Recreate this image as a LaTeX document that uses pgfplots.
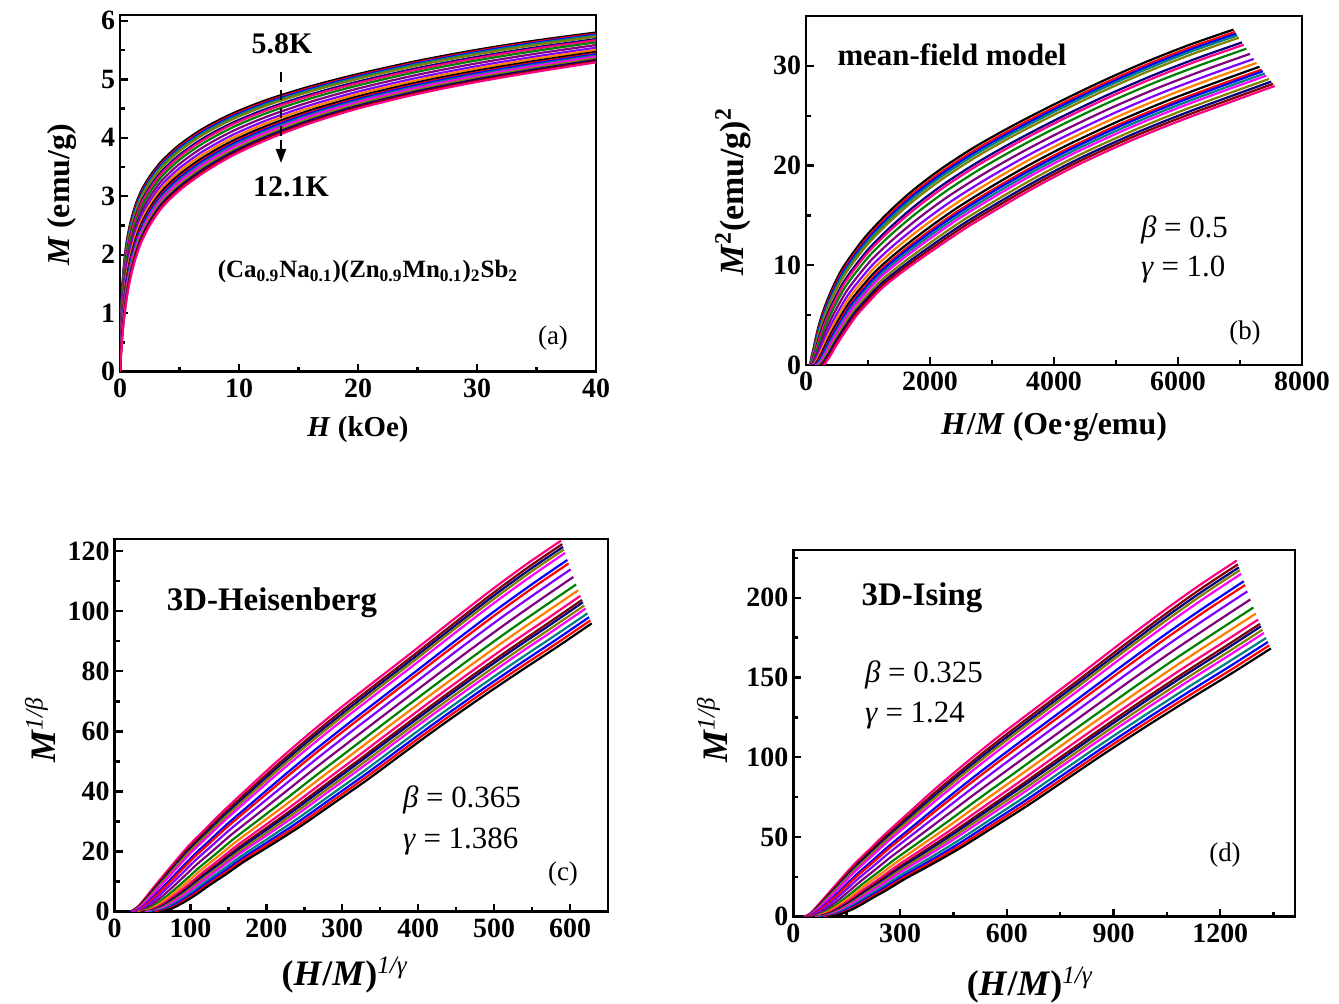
\documentclass[border=0pt]{standalone}
\usepackage{pgfplots}
\pgfplotsset{compat=1.18}
\usepackage{pgfplotstable}
\usepackage{fontspec}
\setmainfont{Liberation Serif}
\usetikzlibrary{arrows.meta}

\definecolor{kblack}{HTML}{000000}
\definecolor{kred}{HTML}{FF0000}
\definecolor{kblue}{HTML}{0000FF}
\definecolor{kteal}{HTML}{008080}
\definecolor{kmagenta}{HTML}{FF00FF}
\definecolor{kolive}{HTML}{808000}
\definecolor{knavy}{HTML}{000080}
\definecolor{kwine}{HTML}{800000}
\definecolor{kpink}{HTML}{FF0080}
\definecolor{korange}{HTML}{FF8000}
\definecolor{kgreen}{HTML}{008000}
\definecolor{kpurple}{HTML}{800080}
\definecolor{kviolet}{HTML}{8000FF}

% colours of panels (a),(b)
\colorlet{ca1}{kblack}\colorlet{ca2}{kred}\colorlet{ca3}{kblue}\colorlet{ca4}{kteal}
\colorlet{ca5}{kolive}\colorlet{ca6}{knavy}\colorlet{ca7}{kpink}\colorlet{ca8}{kgreen}
\colorlet{ca9}{kpurple}\colorlet{ca10}{kviolet}\colorlet{ca11}{korange}\colorlet{ca12}{kblack}
\colorlet{ca13}{kred}\colorlet{ca14}{kblue}\colorlet{ca15}{kteal}\colorlet{ca16}{kmagenta}
\colorlet{ca17}{kolive}\colorlet{ca18}{knavy}\colorlet{ca19}{kwine}\colorlet{ca20}{kpink}
% colours of panels (c),(d)
\colorlet{cc1}{kpink}\colorlet{cc2}{kwine}\colorlet{cc3}{knavy}\colorlet{cc4}{kolive}
\colorlet{cc5}{kmagenta}\colorlet{cc6}{kblue}\colorlet{cc7}{kred}\colorlet{cc8}{kviolet}
\colorlet{cc9}{kpurple}\colorlet{cc10}{kgreen}\colorlet{cc11}{korange}\colorlet{cc12}{kpink}
\colorlet{cc13}{kwine}\colorlet{cc14}{knavy}\colorlet{cc15}{kolive}\colorlet{cc16}{kmagenta}
\colorlet{cc17}{kteal}\colorlet{cc18}{kblue}\colorlet{cc19}{kred}\colorlet{cc20}{kblack}

% H in kOe, M in emu/g; M1 = 5.8 K ... M20 = 12.1 K
\pgfplotstableread{
H M1 M2 M3 M4 M5 M6 M7 M8 M9 M10 M11 M12 M13 M14 M15 M16 M17 M18 M19 M20
0.002 0.030 0.029 0.028 0.028 0.027 0.025 0.024 0.022 0.020 0.018 0.017 0.015 0.014 0.013 0.012 0.011 0.010 0.009 0.008 0.007
0.01 0.150 0.145 0.142 0.139 0.134 0.125 0.120 0.112 0.102 0.091 0.083 0.075 0.070 0.066 0.061 0.057 0.050 0.044 0.040 0.035
0.03 0.420 0.407 0.398 0.388 0.375 0.350 0.337 0.314 0.286 0.257 0.234 0.212 0.196 0.186 0.174 0.161 0.142 0.126 0.113 0.100
0.06 0.740 0.718 0.702 0.686 0.664 0.621 0.600 0.562 0.513 0.465 0.427 0.389 0.362 0.346 0.324 0.303 0.270 0.243 0.222 0.200
0.1 1.020 0.992 0.972 0.951 0.923 0.868 0.841 0.792 0.730 0.668 0.620 0.572 0.537 0.516 0.489 0.461 0.420 0.385 0.358 0.330
0.16 1.300 1.268 1.244 1.220 1.188 1.124 1.092 1.036 0.964 0.892 0.836 0.780 0.740 0.716 0.684 0.652 0.604 0.564 0.532 0.500
0.25 1.620 1.584 1.557 1.530 1.494 1.422 1.386 1.323 1.242 1.161 1.098 1.035 0.990 0.963 0.927 0.891 0.837 0.792 0.756 0.720
0.4 1.970 1.931 1.902 1.873 1.834 1.757 1.718 1.650 1.563 1.475 1.407 1.340 1.291 1.262 1.223 1.184 1.126 1.078 1.039 1.000
0.6 2.270 2.231 2.202 2.173 2.134 2.057 2.018 1.950 1.863 1.775 1.707 1.640 1.591 1.562 1.523 1.484 1.426 1.378 1.339 1.300
0.9 2.570 2.532 2.504 2.475 2.437 2.361 2.323 2.257 2.171 2.086 2.019 1.953 1.905 1.877 1.839 1.801 1.744 1.696 1.658 1.620
1.3 2.850 2.813 2.786 2.758 2.721 2.648 2.611 2.546 2.464 2.381 2.316 2.252 2.206 2.178 2.142 2.105 2.050 2.004 1.967 1.930
1.8 3.100 3.065 3.038 3.012 2.977 2.906 2.871 2.810 2.730 2.651 2.590 2.528 2.484 2.458 2.422 2.387 2.334 2.290 2.255 2.220
2.5 3.340 3.306 3.281 3.256 3.222 3.155 3.122 3.063 2.987 2.912 2.853 2.794 2.752 2.727 2.693 2.660 2.609 2.567 2.534 2.500
3.5 3.600 3.568 3.544 3.520 3.488 3.424 3.392 3.336 3.264 3.192 3.136 3.080 3.040 3.016 2.984 2.952 2.904 2.864 2.832 2.800
5 3.880 3.849 3.825 3.802 3.771 3.708 3.677 3.623 3.552 3.482 3.428 3.373 3.334 3.311 3.279 3.248 3.201 3.162 3.131 3.100
7 4.160 4.130 4.107 4.084 4.054 3.993 3.962 3.909 3.841 3.772 3.719 3.666 3.628 3.605 3.575 3.544 3.499 3.461 3.430 3.400
9.5 4.420 4.391 4.370 4.348 4.319 4.262 4.233 4.182 4.118 4.053 4.002 3.952 3.916 3.894 3.866 3.837 3.794 3.758 3.729 3.700
12.5 4.660 4.633 4.612 4.592 4.565 4.510 4.483 4.436 4.374 4.313 4.266 4.218 4.184 4.164 4.136 4.109 4.068 4.034 4.007 3.980
16 4.880 4.855 4.836 4.817 4.792 4.741 4.716 4.672 4.615 4.559 4.515 4.471 4.439 4.420 4.395 4.370 4.332 4.300 4.275 4.250
20 5.090 5.066 5.049 5.031 5.007 4.960 4.937 4.895 4.842 4.789 4.748 4.707 4.677 4.659 4.636 4.612 4.577 4.547 4.524 4.500
25 5.315 5.292 5.275 5.259 5.236 5.191 5.168 5.129 5.078 5.027 4.987 4.948 4.920 4.903 4.880 4.857 4.823 4.795 4.773 4.750
30 5.505 5.483 5.467 5.450 5.428 5.384 5.362 5.324 5.274 5.225 5.186 5.148 5.120 5.104 5.082 5.060 5.027 4.999 4.977 4.955
35 5.665 5.644 5.628 5.612 5.590 5.547 5.526 5.488 5.440 5.392 5.355 5.317 5.290 5.274 5.253 5.232 5.200 5.173 5.151 5.130
40 5.800 5.780 5.764 5.749 5.729 5.688 5.667 5.632 5.586 5.540 5.504 5.469 5.443 5.428 5.407 5.387 5.356 5.331 5.310 5.290
}\magdata

\pgfplotsset{
  panel/.style={
    scale only axis,
    anchor=south west,
    axis line style={line width=1.4bp},
    tick align=inside,
    xtick pos=bottom, ytick pos=left,
    major tick length=4bp, minor tick length=2.5bp,
    every tick/.style={black, line width=1.2bp},
    ticklabel style={font=\bfseries\fontsize{14}{16}\selectfont},
    yticklabel style={xshift=1bp},
    /pgf/number format/assume math mode=true,
    /pgf/number format/set thousands separator={},
    every axis plot/.append style={line width=1.1bp, smooth, tension=0.5},
  },
}

\newcommand{\fs}[1]{\fontsize{#1}{#1}\selectfont}

\begin{document}
\begin{tikzpicture}
\useasboundingbox (0,0) rectangle (669.5bp,502bp);

% (a)
\begin{axis}[panel, at={(60bp,316.15bp)}, width=238bp, height=178.35bp,
  xmin=0, xmax=40, ymin=0, ymax=6.1,
  xtick={0,10,20,30,40}, minor xtick={5,15,25,35},
  ytick={0,1,2,3,4,5,6}, minor ytick={0.5,1.5,2.5,3.5,4.5,5.5}]
\pgfplotsinvokeforeach{1,...,20}{
  \addplot[ca#1] table[x=H, y=M#1]{\magdata};
}
\end{axis}

% (b)
\begin{axis}[panel, at={(403bp,319.5bp)}, width=248bp, height=174.5bp,
  xmin=0, xmax=8000, ymin=0, ymax=35,
  xtick={0,2000,4000,6000,8000}, minor xtick={1000,3000,5000,7000},
  ytick={0,10,20,30}, minor ytick={5,15,25}]
\pgfplotsinvokeforeach{1,...,20}{
  \addplot[ca#1] table[x expr={1000*\thisrow{H}/\thisrow{M#1}}, y expr={\thisrow{M#1}^2}]{\magdata};
}
\end{axis}

% (c)
\begin{axis}[panel, at={(57.25bp,46.15bp)}, width=246.75bp, height=186.35bp,
  xmin=0, xmax=650, ymin=0, ymax=124,
  xtick={0,100,...,600}, minor xtick={50,150,...,650},
  ytick={0,20,...,120}, minor ytick={10,30,...,110}]
\pgfplotsinvokeforeach{1,...,20}{
  \addplot[cc#1] table[x expr={(1000*\thisrow{H}/\thisrow{M#1})^(1/1.386)}, y expr={\thisrow{M#1}^(1/0.365)}]{\magdata};
}
\end{axis}

% (d)
\begin{axis}[panel, at={(396.65bp,43.65bp)}, width=250.85bp, height=183.35bp,
  xmin=0, xmax=1410, ymin=0, ymax=230,
  xtick={0,300,600,900,1200}, minor xtick={150,450,750,1050,1350},
  ytick={0,50,100,150,200}, minor ytick={25,75,125,175,225}]
\pgfplotsinvokeforeach{1,...,20}{
  \addplot[cc#1] table[x expr={(1000*\thisrow{H}/\thisrow{M#1})^(1/1.24)}, y expr={\thisrow{M#1}^(1/0.325)}]{\magdata};
}
\end{axis}

% ---- labels (a)
\node[font=\bfseries\fs{16}, rotate=90] at (31bp,404.5bp) {\textit{M} (emu/g)};
\node[font=\bfseries\fs{14.5}] at (179bp,287bp) {\textit{H} (kOe)};
\node[font=\bfseries\fs{15}] at (141bp,480bp) {5.8K};
\node[font=\bfseries\fs{15}] at (145.5bp,408.5bp) {12.1K};
\draw[line width=1.1bp, dash pattern=on 5bp off 4bp] (140.5bp,466bp) -- (140.5bp,428bp);
\draw[line width=1.1bp, -{Triangle[length=7bp,width=5bp]}] (140.5bp,432bp) -- (140.5bp,420.5bp);
\node[font=\bfseries\fs{12.5}] at (184bp,366bp)
  {(Ca\textsubscript{0.9}Na\textsubscript{0.1})(Zn\textsubscript{0.9}Mn\textsubscript{0.1})\textsubscript{2}Sb\textsubscript{2}};
\node[font=\fs{13.5}] at (276.5bp,333bp) {(a)};

% ---- labels (b)
\node[font=\bfseries\fs{17}, rotate=90] at (366.5bp,406bp) {\textit{M}\textsuperscript{2}(emu/g)\textsuperscript{2}};
\node[font=\bfseries\fs{16}] at (527bp,288.5bp) {\textit{H}/\textit{M} (Oe·g/emu)};
\node[font=\bfseries\fs{15.5}] at (476bp,474.5bp) {mean-field model};
\node[font=\fs{15.5}, anchor=west] at (567bp,387bp) {\textit{β} = 0.5};
\node[font=\fs{15.5}, anchor=west] at (567bp,367bp) {\textit{γ} = 1.0};
\node[font=\fs{13.5}] at (622.5bp,335.5bp) {(b)};

% ---- labels (c)
\node[font=\bfseries\fs{18}, rotate=90] at (20bp,137bp) {\textit{M}\textsuperscript{\mdseries\textit{1/β}}};
\node[font=\bfseries\fs{18}] at (172.5bp,14.5bp) {(\textit{H}/\textit{M})\textsuperscript{\mdseries\textit{1/γ}}};
\node[font=\bfseries\fs{16.5}] at (136bp,200.5bp) {3D-Heisenberg};
\node[font=\fs{15.5}, anchor=west] at (198bp,102bp) {\textit{β} = 0.365};
\node[font=\fs{15.5}, anchor=west] at (198bp,81bp) {\textit{γ} = 1.386};
\node[font=\fs{13.5}] at (281.5bp,65bp) {(c)};

% ---- labels (d)
\node[font=\bfseries\fs{18}, rotate=90] at (356bp,137bp) {\textit{M}\textsuperscript{\mdseries\textit{1/β}}};
\node[font=\bfseries\fs{18}] at (515bp,9.5bp) {(\textit{H}/\textit{M})\textsuperscript{\mdseries\textit{1/γ}}};
\node[font=\bfseries\fs{16.5}] at (461bp,203bp) {3D-Ising};
\node[font=\fs{15.5}, anchor=west] at (429bp,164.5bp) {\textit{β} = 0.325};
\node[font=\fs{15.5}, anchor=west] at (429bp,144bp) {\textit{γ} = 1.24};
\node[font=\fs{13.5}] at (612.5bp,74.5bp) {(d)};
\end{tikzpicture}
\end{document}
